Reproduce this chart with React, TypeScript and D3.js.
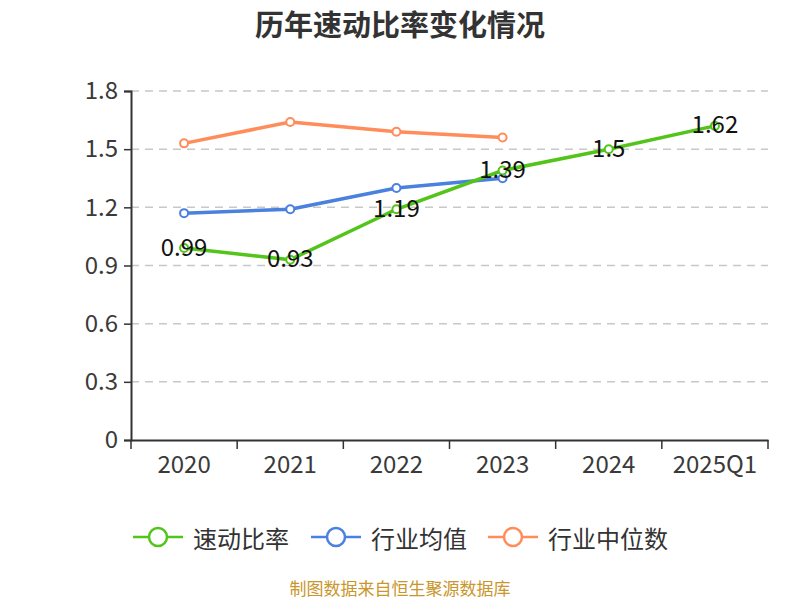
import React, { useEffect, useRef } from 'react';
import * as d3 from 'd3';

const categories = ['2020', '2021', '2022', '2023', '2024', '2025Q1'];
const quickRatio = [0.99, 0.93, 1.19, 1.39, 1.5, 1.62];
const industryAvg = [1.17, 1.19, 1.3, 1.35];
const industryMedian = [1.53, 1.64, 1.59, 1.56];
const yTicks = [0, 0.3, 0.6, 0.9, 1.2, 1.5, 1.8];

const seriesList = [
  { name: '速动比率', values: quickRatio, color: '#52c41a' },
  { name: '行业均值', values: industryAvg, color: '#4a80de' },
  { name: '行业中位数', values: industryMedian, color: '#ff8c5a' },
];

export default function App() {
  const svgRef = useRef<SVGSVGElement | null>(null);

  useEffect(() => {
    if (!svgRef.current) return;
    const svg = d3.select(svgRef.current);
    svg.selectAll('*').remove();

    const width = 800;
    const height = 600;
    const margin = { top: 91, right: 32, bottom: 160, left: 131 };
    const font = '"Noto Sans CJK SC", "Noto Sans", sans-serif';

    const x = d3.scaleBand().domain(categories).range([margin.left, width - margin.right]);
    const y = d3.scaleLinear().domain([0, 1.8]).range([height - margin.bottom, margin.top]);

    // title
    svg.append('text')
      .attr('x', 400).attr('y', 23)
      .attr('text-anchor', 'middle').attr('dominant-baseline', 'central')
      .attr('font-family', font).attr('font-size', 29).attr('font-weight', 'bold')
      .attr('fill', '#333')
      .text('历年速动比率变化情况');

    // grid
    svg.append('g')
      .selectAll('line')
      .data(yTicks.filter(t => t > 0))
      .join('line')
      .attr('x1', margin.left).attr('x2', width - margin.right)
      .attr('y1', d => y(d)).attr('y2', d => y(d))
      .attr('stroke', '#c8c8c8').attr('stroke-width', 1.5).attr('stroke-dasharray', '8,6');

    // y axis
    const yAxis = svg.append('g')
      .attr('transform', `translate(${margin.left},0)`)
      .call(d3.axisLeft(y).tickValues(yTicks).tickFormat(d => String(d)).tickSize(7).tickPadding(6));
    yAxis.select('.domain').attr('stroke', '#333').attr('stroke-width', 2);
    yAxis.selectAll('.tick line').attr('stroke', '#333').attr('stroke-width', 1.5);
    yAxis.selectAll('.tick text').attr('font-family', font).attr('font-size', 24).attr('fill', '#3a3a3a');

    // x axis
    const xAxis = svg.append('g')
      .attr('transform', `translate(0,${height - margin.bottom})`)
      .call(d3.axisBottom(x).tickSize(0).tickPadding(16));
    xAxis.select('.domain').attr('stroke', '#333').attr('stroke-width', 2);
    xAxis.selectAll('.tick text').attr('font-family', font).attr('font-size', 24).attr('fill', '#3a3a3a');
    xAxis.selectAll('line.sep')
      .data([...categories.map(c => x(c) as number), x.range()[1]])
      .join('line')
      .attr('class', 'sep')
      .attr('x1', d => d).attr('x2', d => d)
      .attr('y1', 0).attr('y2', 9)
      .attr('stroke', '#333').attr('stroke-width', 1.5);

    const cx = (i: number) => (x(categories[i]) as number) + x.bandwidth() / 2;

    // lines (median, avg, then main on top)
    [...seriesList].reverse().forEach(s => {
      const line = d3.line<number>().x((_, i) => cx(i)).y(d => y(d));
      svg.append('path')
        .datum(s.values)
        .attr('d', line)
        .attr('fill', 'none')
        .attr('stroke', s.color)
        .attr('stroke-width', 3.5)
        .attr('stroke-linejoin', 'round');
      svg.append('g')
        .selectAll('circle')
        .data(s.values)
        .join('circle')
        .attr('cx', (_, i) => cx(i)).attr('cy', d => y(d))
        .attr('r', 4)
        .attr('fill', '#fff')
        .attr('stroke', s.color).attr('stroke-width', 2);
    });

    // data labels
    svg.append('g')
      .selectAll('text')
      .data(quickRatio)
      .join('text')
      .attr('x', (_, i) => cx(i)).attr('y', d => y(d) - 3)
      .attr('text-anchor', 'middle').attr('dominant-baseline', 'central')
      .attr('font-family', font).attr('font-size', 24).attr('fill', '#111')
      .text(d => String(d));

    // legend
    const legendX = [133, 311, 488];
    const legend = svg.append('g')
      .selectAll('g')
      .data(seriesList)
      .join('g')
      .attr('transform', (_, i) => `translate(${legendX[i]},537)`);
    legend.append('line')
      .attr('x1', 0).attr('x2', 50).attr('y1', 0).attr('y2', 0)
      .attr('stroke', d => d.color).attr('stroke-width', 2.5);
    legend.append('circle')
      .attr('cx', 25).attr('cy', 0).attr('r', 9)
      .attr('fill', '#fff').attr('stroke', d => d.color).attr('stroke-width', 2.5);
    legend.append('text')
      .attr('x', 60).attr('y', 0)
      .attr('dominant-baseline', 'central')
      .attr('font-family', font).attr('font-size', 24).attr('fill', '#333')
      .text(d => d.name);

    // source
    svg.append('text')
      .attr('x', 400).attr('y', 587)
      .attr('text-anchor', 'middle').attr('dominant-baseline', 'central')
      .attr('font-family', font).attr('font-size', 17).attr('fill', '#c9962b')
      .text('制图数据来自恒生聚源数据库');
  }, []);

  return <svg ref={svgRef} width={800} height={600} style={{ display: 'block', position: 'absolute', left: 0, top: 0 }} />;
}
